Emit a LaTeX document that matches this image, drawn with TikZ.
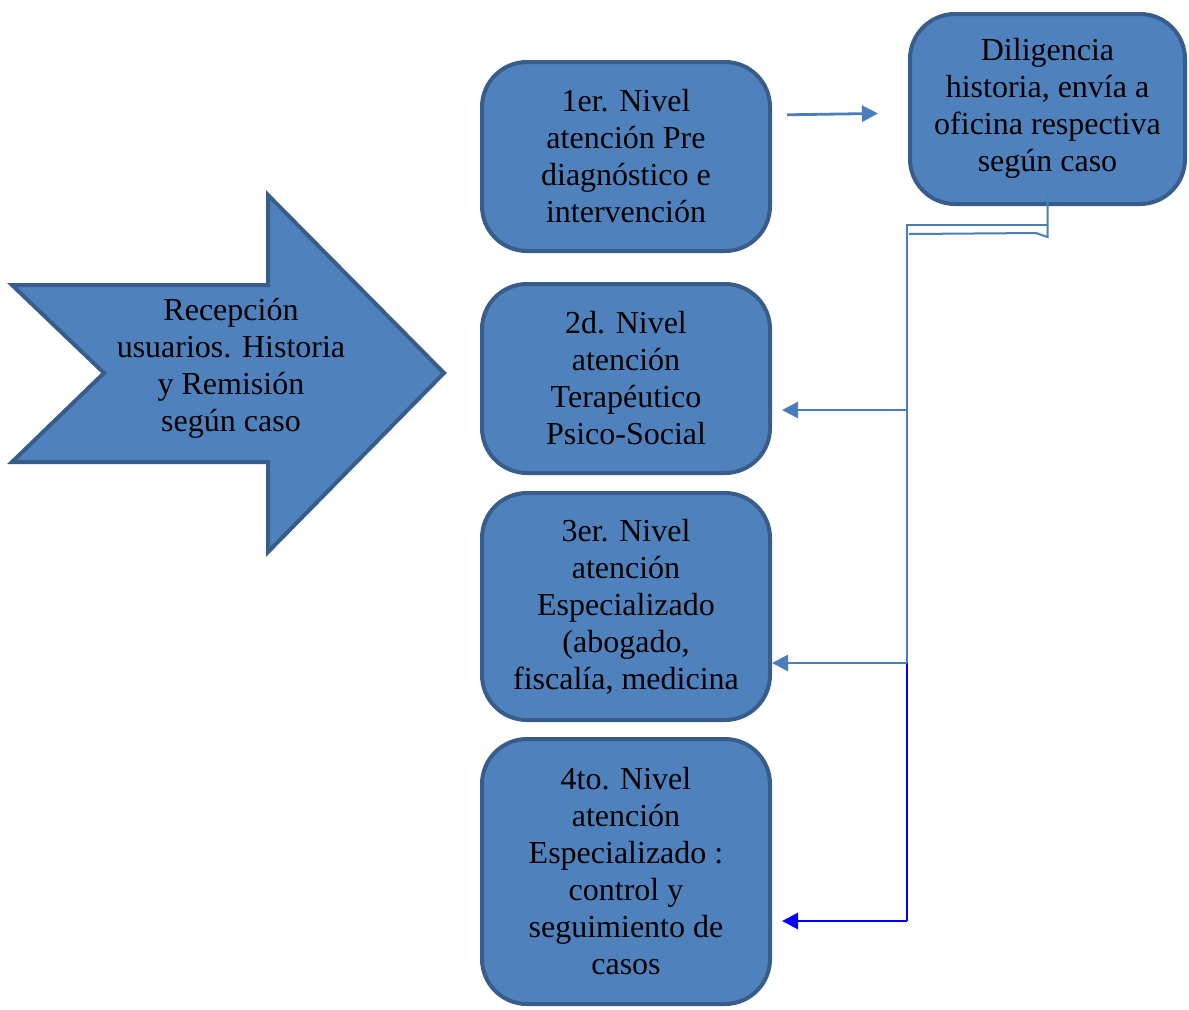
\documentclass[tikz,border=0pt]{standalone}
\usepackage{fontspec}
\setmainfont{Liberation Serif}
\usepackage{tikz}
\usetikzlibrary{arrows.meta, positioning}
\definecolor{boxfill}{HTML}{4F81BD}
\definecolor{boxline}{HTML}{385D8A}
\definecolor{linkcol}{HTML}{4A7EBB}
\definecolor{linkblue}{HTML}{0000FF}

\begin{document}
\begin{tikzpicture}[x=0.5pt, y=-0.5pt,
    nivel/.style={draw=boxline, fill=boxfill, line width=2pt, rounded corners=22.5pt,
      minimum width=144pt, align=center, inner sep=0pt,
      font=\fontsize{16}{18.5}\selectfont},
    link/.style={draw=linkcol, line width=1.4pt, -{Triangle[length=8pt, width=8pt]}},
    trunk/.style={draw=linkcol, line width=1pt},
    linkb/.style={draw=linkblue, line width=1.4pt, -{Triangle[length=8pt, width=8pt]}}]
  \useasboundingbox (0,0) rectangle (1189,1009);
  % big arrow
  \filldraw[fill=boxfill, draw=boxline, line width=2pt]
    (12,285) -- (268,285) -- (268,195) -- (444,373) -- (268,552)
    -- (268,462) -- (12,462) -- (104,373) -- cycle;
  \node[align=center, font=\fontsize{16}{18.5}\selectfont] (recep) at (231,368)
    {Recepción\\usuarios. Historia\\y Remisión\\según caso};
  % levels
  \node[nivel, minimum height=94.5pt] (uno) at (626,156.5)
    {1er. Nivel\\atención Pre\\diagnóstico e\\intervención};
  \node[nivel, minimum height=94.5pt] (dos) at (626,378.5)
    {2d. Nivel\\atención\\Terapéutico\\Psico-Social};
  \node[nivel, minimum height=113.5pt] (tres) at (626,606.5)
    {3er. Nivel\\atención\\Especializado\\(abogado,\\fiscalía, medicina};
  \node[nivel, minimum height=132.5pt] (cuatro) at (626,871.5)
    {4to. Nivel\\atención\\Especializado :\\control y\\seguimiento de\\casos};
  \node[nivel, minimum width=137.5pt, minimum height=95pt] (dilig) at (1047.5,109)
    {\raisebox{-1pt}{\begin{tabular}{@{}c@{}}Diligencia\\historia, envía a\\oficina respectiva\\según caso\end{tabular}}};
  % connectors
  \coordinate (j0) at (907,225);
  \coordinate (j2) at (907,410);
  \coordinate (j3) at (907,663);
  \coordinate (j4) at (907,921);
  \draw[link, shorten <=7.5pt, shorten >=15pt] (uno.east |- 0,115) -- (dilig.west |- 0,113);
  \draw[trunk] ([yshift=8pt]dilig.south) -- (dilig.south |- 0,237) -- (1036,233) -- (909,234);
  \draw[trunk] (dilig.south |- j0) -- (j0) -- (j3);
  \draw[trunk, draw=linkblue] (j3) -- (j4);
  \draw[link, shorten >=5pt] (j2) -- (dos.east |- j2);
  \draw[link] (j3) -- (tres.east |- j3);
  \draw[linkb, shorten >=5pt] (j4) -- (cuatro.east |- j4);
\end{tikzpicture}
\end{document}
